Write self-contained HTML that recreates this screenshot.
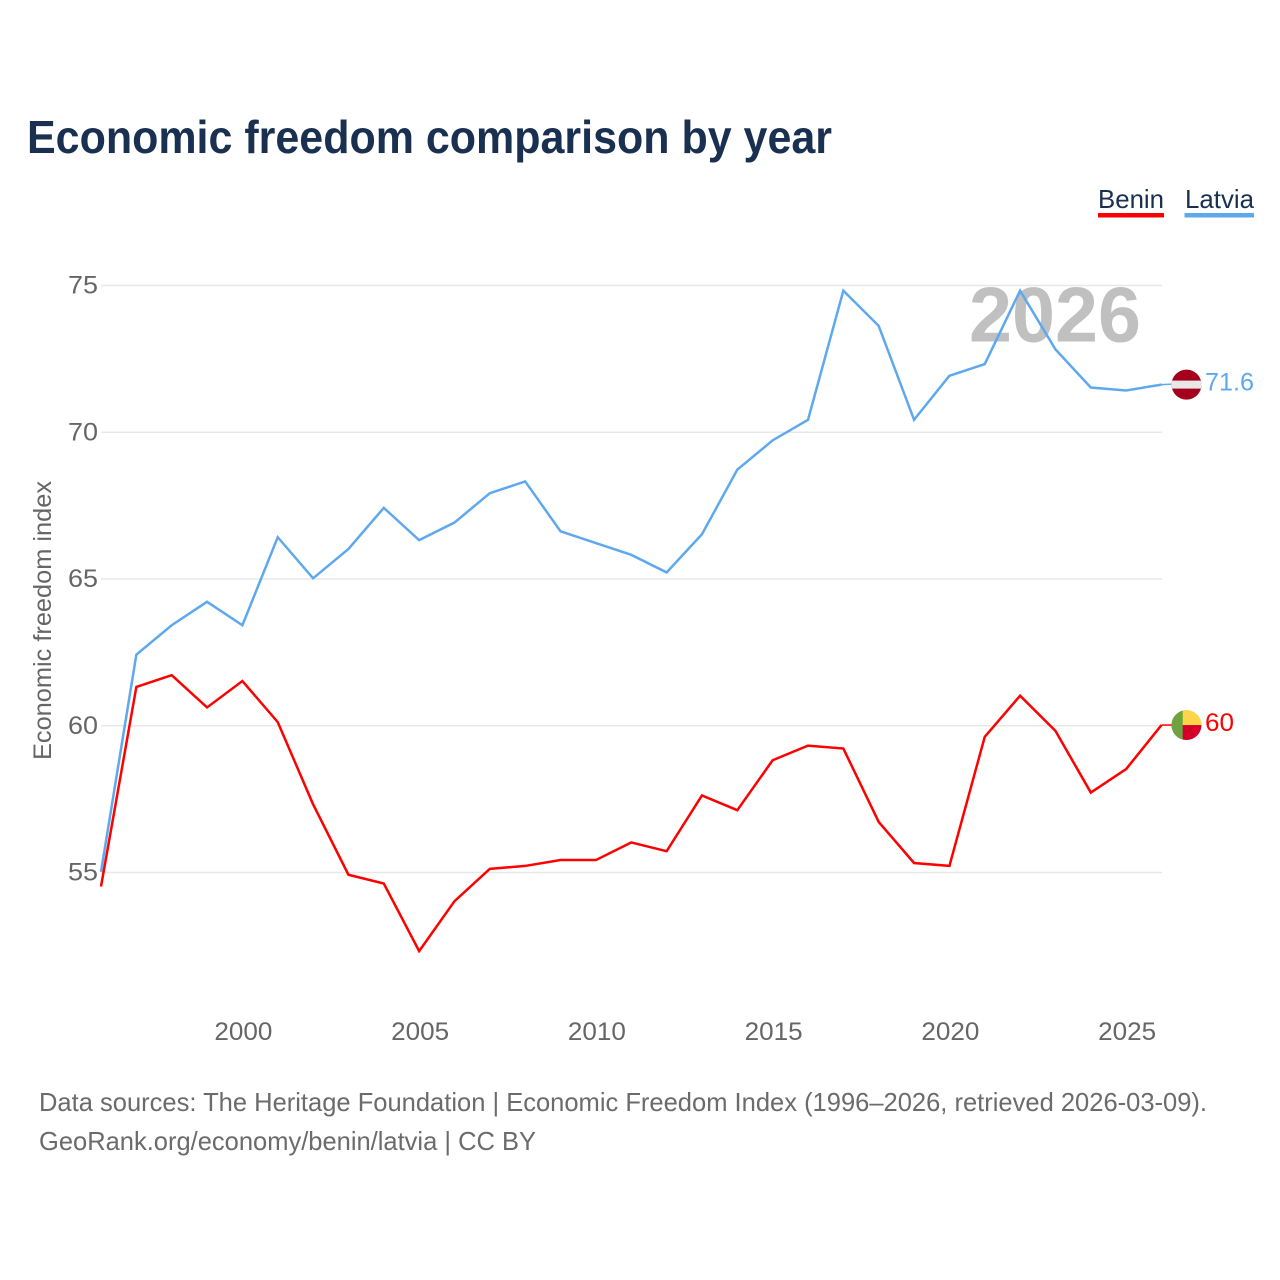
<!DOCTYPE html>
<html lang="en">
<head>
<meta charset="utf-8">
<title>Economic freedom comparison by year</title>
<style>
html,body{margin:0;padding:0;background:#fff;width:1280px;height:1280px;overflow:hidden}
svg{display:block}
text{font-family:"Liberation Sans",Arial,sans-serif}
</style>
</head>
<body>
<svg id="chart" xmlns="http://www.w3.org/2000/svg" width="1280" height="1280" viewBox="0 0 1280 1280">
  <rect x="0" y="0" width="1280" height="1280" fill="#ffffff"/>
  <text x="27" y="153" font-size="46" font-weight="700" fill="#1a3050" textLength="805" lengthAdjust="spacingAndGlyphs">Economic freedom comparison by year</text>

  <g>
    <g>
      <text x="1098" y="208" font-size="26" fill="#1a3050" textLength="66" lengthAdjust="spacingAndGlyphs">Benin</text>
      <rect x="1098" y="213" width="66" height="4.5" fill="#ff0000"/>
    </g>
    <g>
      <text x="1185" y="208" font-size="26" fill="#1a3050" textLength="69" lengthAdjust="spacingAndGlyphs">Latvia</text>
      <rect x="1184.5" y="213" width="69.5" height="4.5" fill="#5ea8ee"/>
    </g>
  </g>

  <g id="grid"></g>
  <text x="969" y="341.5" font-size="78" font-weight="700" fill="#c0c0c0" textLength="172" lengthAdjust="spacingAndGlyphs">2026</text>
  <g id="y-ticks"></g>
  <g id="x-ticks"></g>
  <text transform="translate(51,620.5) rotate(-90)" text-anchor="middle" font-size="25" fill="#666666" textLength="279" lengthAdjust="spacingAndGlyphs">Economic freedom index</text>
  <g id="series" transform="translate(0,-0.7)"></g>

  <g id="end-markers" transform="translate(0,-0.7)"></g>

  <text x="39" y="1111" font-size="26" fill="#6b6b6b" textLength="1168" lengthAdjust="spacingAndGlyphs">Data sources: The Heritage Foundation | Economic Freedom Index (1996–2026, retrieved 2026-03-09).</text>
  <text x="39" y="1150" font-size="26" fill="#6b6b6b" textLength="497" lengthAdjust="spacingAndGlyphs">GeoRank.org/economy/benin/latvia | CC BY</text>
</svg>
<script>
const years = [1996,1997,1998,1999,2000,2001,2002,2003,2004,2005,2006,2007,2008,2009,2010,2011,2012,2013,2014,2015,2016,2017,2018,2019,2020,2021,2022,2023,2024,2025,2026];
const beninValues = [54.5,61.3,61.7,60.6,61.5,60.1,57.3,54.9,54.6,52.3,54.0,55.1,55.2,55.4,55.4,56.0,55.7,57.6,57.1,58.8,59.3,59.2,56.7,55.3,55.2,59.6,61.0,59.8,57.7,58.5,60.0];
const latviaValues = [55.0,62.4,63.4,64.2,63.4,66.4,65.0,66.0,67.4,66.3,66.9,67.9,68.3,66.6,66.2,65.8,65.2,66.5,68.7,69.7,70.4,74.8,73.6,70.4,71.9,72.3,74.8,72.8,71.5,71.4,71.6];
const xTickYears = [2000,2005,2010,2015,2020,2025];
const yTickValues = [55,60,65,70,75];

const NS = 'http://www.w3.org/2000/svg';
const BLUE = '#5ea8ee';
const RED = '#ff0000';
function xScale(year){ return 101 + (year - 1996) * (1161.5 - 101) / 30; }
function yScale(value){ return 872.5 - (value - 55) * (872.5 - 285.5) / 20; }
function make(tag, attrs){
  const el = document.createElementNS(NS, tag);
  for (const k in attrs) el.setAttribute(k, attrs[k]);
  return el;
}

const grid = document.getElementById('grid');
const yTicks = document.getElementById('y-ticks');
yTickValues.forEach(function(v){
  const line = make('line', {x1:101, x2:1162, y1:yScale(v), y2:yScale(v), stroke:'#e8e8e8', 'stroke-width':1.5});
  
  
  grid.appendChild(line);
  const label = make('text', {x:98, y:yScale(v) + 8, 'text-anchor':'end', 'font-size':25, fill:'#666666', textLength:30, lengthAdjust:'spacingAndGlyphs'});
  
  
  label.textContent = v;
  yTicks.appendChild(label);
});

const xTicks = document.getElementById('x-ticks');
xTickYears.forEach(function(y){
  const label = make('text', {x:xScale(y) + 1, y:1040, 'text-anchor':'middle', 'font-size':25, fill:'#666666', textLength:58, lengthAdjust:'spacingAndGlyphs'});
  
  
  label.textContent = y;
  xTicks.appendChild(label);
});

function linePath(values){
  return values.map(function(v, i){
    return (i ? 'L' : 'M') + xScale(years[i]).toFixed(2) + ' ' + yScale(v).toFixed(2);
  }).join(' ');
}
const series = document.getElementById('series');
const latviaLine = make('path', {d:linePath(latviaValues), fill:'none', stroke:BLUE, 'stroke-width':2.5, 'stroke-linejoin':'miter'});


series.appendChild(latviaLine);
const beninLine = make('path', {d:linePath(beninValues), fill:'none', stroke:RED, 'stroke-width':2.5, 'stroke-linejoin':'miter'});


series.appendChild(beninLine);

const markers = document.getElementById('end-markers');
const latviaLast = latviaValues[latviaValues.length - 1];
const beninLast = beninValues[beninValues.length - 1];
const latviaY = yScale(latviaLast);
const beninY = yScale(beninLast);
const flagX = 1186.5;
const flagR = 15;

const latviaLead = make('line', {x1:1161.5, x2:1172, y1:latviaY, y2:latviaY - 0.5, stroke:BLUE, 'stroke-width':1.5});


markers.appendChild(latviaLead);
const beninLead = make('line', {x1:1161.5, x2:1172, y1:beninY, y2:beninY, stroke:RED, 'stroke-width':1.5});


markers.appendChild(beninLead);

// Latvia flag
const latviaFlag = make('g', {transform:'translate(' + flagX + ',' + latviaY + ')'});


latviaFlag.appendChild(make('circle', {cx:0, cy:0, r:flagR, fill:'#a4001d'}));
const latviaClip = make('clipPath', {id:'clip-latvia'});
latviaClip.appendChild(make('circle', {cx:0, cy:0, r:flagR}));
latviaFlag.appendChild(latviaClip);
latviaFlag.appendChild(make('rect', {x:-flagR, y:-4, width:flagR * 2, height:8, fill:'#e9e6e6', 'clip-path':'url(#clip-latvia)'}));
markers.appendChild(latviaFlag);

// Benin flag
const beninFlag = make('g', {transform:'translate(' + flagX + ',' + beninY + ')'});


const beninClip = make('clipPath', {id:'clip-benin'});
beninClip.appendChild(make('circle', {cx:0, cy:0, r:flagR}));
beninFlag.appendChild(beninClip);
const beninParts = make('g', {'clip-path':'url(#clip-benin)'});
beninParts.appendChild(make('rect', {x:-flagR, y:-flagR, width:flagR * 2, height:flagR, fill:'#fcd54a'}));
beninParts.appendChild(make('rect', {x:-flagR, y:0, width:flagR * 2, height:flagR, fill:'#d4002a'}));
beninParts.appendChild(make('rect', {x:-flagR, y:-flagR, width:11.2, height:flagR * 2, fill:'#6ea33f'}));
beninFlag.appendChild(beninParts);
markers.appendChild(beninFlag);

const latviaLabel = make('text', {x:1205, y:latviaY + 6, 'font-size':25, fill:BLUE, textLength:49, lengthAdjust:'spacingAndGlyphs'});


latviaLabel.textContent = latviaLast.toFixed(1);
markers.appendChild(latviaLabel);
const beninLabel = make('text', {x:1205, y:beninY + 6, 'font-size':25, fill:RED, textLength:29, lengthAdjust:'spacingAndGlyphs'});


beninLabel.textContent = String(Math.round(beninLast * 10) / 10);
markers.appendChild(beninLabel);
</script>
</body>
</html>
